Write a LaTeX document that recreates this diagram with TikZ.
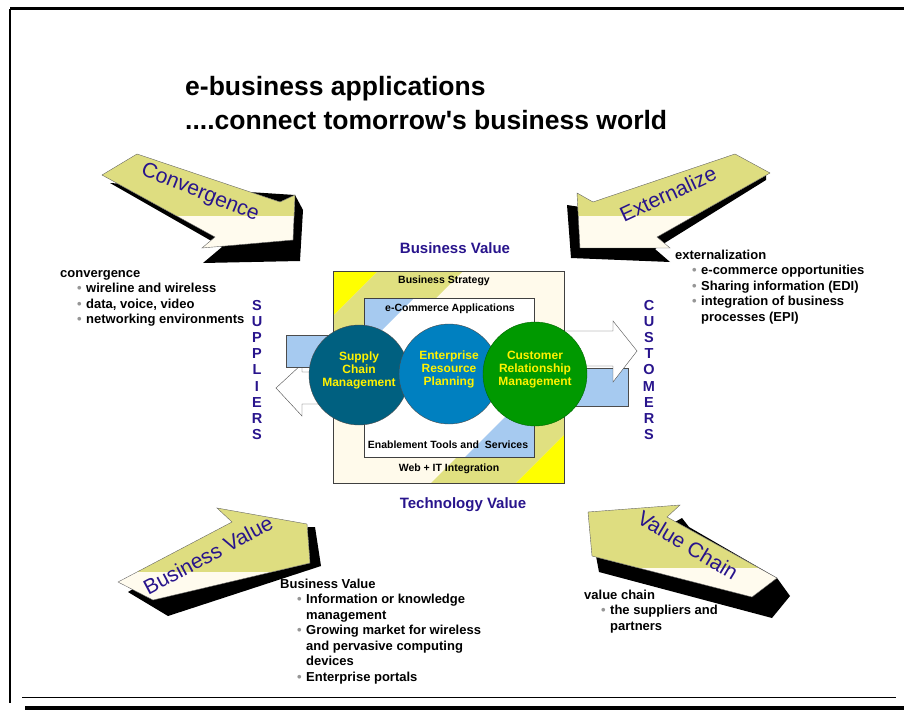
\documentclass[tikz,border=0pt]{standalone}
\usepackage{fontspec}
\setmainfont{Liberation Sans}

\definecolor{arrowolive}{RGB}{222,221,128}
\definecolor{arrowcream}{RGB}{255,251,238}
\definecolor{arrowtext}{RGB}{40,20,140}
\definecolor{boxyellow}{RGB}{255,255,0}
\definecolor{boxolive}{RGB}{224,224,128}
\definecolor{boxcream}{RGB}{255,250,235}
\definecolor{ltblue}{RGB}{166,202,240}
\definecolor{scmcol}{RGB}{0,96,128}
\definecolor{erpcol}{RGB}{0,128,192}
\definecolor{crmcol}{RGB}{0,153,0}
\definecolor{bulgray}{RGB}{150,150,150}

% block arrow with shadow: #1 outline, #2 y of colour change, #3 shadow outline
\newcommand\fatarrow[3]{%
  \fill[black] #3;
  \fill[arrowcream] #1;
  \begin{scope}
    \clip #1;
    \fill[arrowolive] (0,0) rectangle (904,#2);
  \end{scope}
  \draw[black!60] #1;
}
\newcommand\bul{\hspace*{17pt}\makebox[9pt][l]{\textcolor{bulgray}{•}}}
\newcommand\cont{\hspace*{26pt}}
\newcommand\lift{\rule[-12pt]{0pt}{12pt}}

\begin{document}
\begin{tikzpicture}[x=1pt,y=-1pt,
  bigtext/.style={text=arrowtext, font=\fontsize{21}{21}\selectfont},
  listtext/.style={anchor=north west, inner sep=0, align=left, font=\fontsize{13}{15.5}\selectfont\bfseries},
  boxlabel/.style={font=\fontsize{10.5}{12}\selectfont\bfseries, inner sep=1pt},
  headlabel/.style={text=arrowtext, font=\fontsize{15}{16}\selectfont\bfseries},
  sidelabel/.style={text=arrowtext, align=center, font=\fontsize{14.5}{16.1}\selectfont\bfseries},
  circ/.style={circle, draw=black!70, align=center, text=yellow, inner sep=0, font=\fontsize{12}{13}\selectfont\bfseries},
  flatarrow/.style={draw=black!70, fill=white},
  bluebar/.style={draw=black!70, fill=ltblue}]
\useasboundingbox (0,0) rectangle (904,711);

% frame
\draw[line width=3pt] (10,9) -- (904,9);
\draw[line width=2pt] (10,9) -- (10,703);
\draw[line width=1pt] (22,697) -- (896,697);
\draw[line width=3.5pt] (25,708) -- (904,708);

% title
\node[anchor=north west, inner sep=0, align=left, font=\fontsize{26.5}{34}\selectfont\bfseries] (title) at (185,72)
  {\strut e-business applications\\....connect tomorrow\textquotesingle s business world};

% the four corner arrows
\fatarrow{(102,175) -- (137,154) -- (280,202) -- (295,195) -- (293,240) -- (202,248) -- (215,237) -- cycle}{216}
  {(110,183) -- (222,247) -- (203,263) -- (300,261) -- (303,210) -- (295,195) -- cycle}
\node[bigtext, rotate=-22] (conv) at (200,193) {Convergence};

\fatarrow{(735,154) -- (770,173) -- (657,237) -- (670,248) -- (580,248) -- (577,193) -- (593,202) -- cycle}{216}
  {(567,205) -- (571,258) -- (670,262) -- (655,249) -- (766,180) -- (766,175) -- (600,210) -- cycle}
\node[bigtext, rotate=25] (ext) at (668,194) {Externalize};

\fatarrow{(118,582) -- (232,522) -- (217,508) -- (307,524) -- (310,563) -- (153,600) -- cycle}{572}
  {(128,592) -- (168,616) -- (321,566) -- (315,527) -- (232,530) -- cycle}
\node[bigtext, rotate=28] (bval) at (208,555) {Business Value};

\fatarrow{(588,512) -- (680,505) -- (667,517) -- (777,578) -- (752,597) -- (592,556) -- cycle}{568}
  {(596,556) -- (599,572) -- (772,618) -- (790,596) -- (777,578) -- (689,527) -- (682,518) -- (675,522) -- cycle}
\node[bigtext, rotate=-31] (vch) at (688,545) {Value Chain};

% flows behind the box
\draw[flatarrow] (276,388) -- (302,364) -- (302,372) -- (345,372) -- (345,404) -- (302,404) -- (302,416) -- cycle;
\draw[bluebar] (286,335) rectangle (345,367);
\draw[bluebar] (555,368) rectangle (628,406);
\draw[flatarrow] (637,351) -- (613,321) -- (613,331) -- (555,331) -- (555,366) -- (613,366) -- (613,382) -- cycle;

% strategy box
\begin{scope}
  \clip (333,271) rectangle (564,483);
  \fill[boxcream] (333,271) rectangle (564,483);
  \fill[boxyellow] (333,271) -- (378,271) -- (333,316) -- cycle;
  \fill[boxolive] (378,271) -- (463,271) -- (333,401) -- (333,316) -- cycle;
  \fill[boxolive] (564,350) -- (564,435) -- (516,483) -- (431,483) -- cycle;
  \fill[boxyellow] (564,435) -- (564,483) -- (516,483) -- cycle;
\end{scope}
\node[draw=black!75, minimum width=231, minimum height=212, inner sep=0] (strat) at (448.5,377) {};

% e-commerce box
\fill[white] (364,298) rectangle (534,457);
\fill[ltblue] (364,298) -- (414,298) -- (364,348) -- cycle;
\fill[ltblue] (534,388) -- (534,457) -- (465,457) -- cycle;
\node[draw=black!75, minimum width=170, minimum height=159, inner sep=0] (ecom) at (449,377.5) {};

\node[boxlabel] (strategy) at (444,281) {Business Strategy};
\node[boxlabel] (apps) at (450,309) {e-Commerce Applications};
\node[boxlabel] (tools) at (448,445) {Enablement Tools and\ \ Services};
\node[boxlabel] (web) at (449,469) {Web + IT Integration};

% circles
\node[circ, fill=scmcol, minimum size=100] (scm) at (359,375) {Supply\\Chain\\Management\lift};
\node[circ, fill=erpcol, minimum size=100] (erp) at (449,374) {Enterprise\\Resource\\Planning\lift};
\node[circ, fill=crmcol, draw=green!40!black, minimum size=104] (crm) at (535,374) {Customer\\Relationship\\Management\lift};

% labels round the box
\node[headlabel] (bvhead) at (455,248) {Business Value};
\node[headlabel] (tvhead) at (463,505) {Technology Value};
\node[sidelabel] (sup) at (257,370) {S\\U\\P\\P\\L\\I\\E\\R\\S};
\node[sidelabel] (cust) at (649,370) {C\\U\\S\\T\\O\\M\\E\\R\\S};

% lists
\node[listtext] (convlist) at (60,266) {\strut convergence\\ \bul wireline and wireless\\ \bul data, voice, video\\ \bul networking environments};
\node[listtext] (extlist) at (675,248) {\strut externalization\\ \bul e-commerce opportunities\\ \bul Sharing information (EDI)\\ \bul integration of business\\ \cont processes (EPI)};
\node[listtext] (bvlist) at (280,577) {\strut Business Value\\ \bul Information or knowledge\\ \cont management\\ \bul Growing market for wireless\\ \cont and pervasive computing\\ \cont devices\\ \bul Enterprise portals};
\node[listtext] (vclist) at (584,588) {\strut value chain\\ \bul the suppliers and\\ \cont partners};
\end{tikzpicture}
\end{document}
